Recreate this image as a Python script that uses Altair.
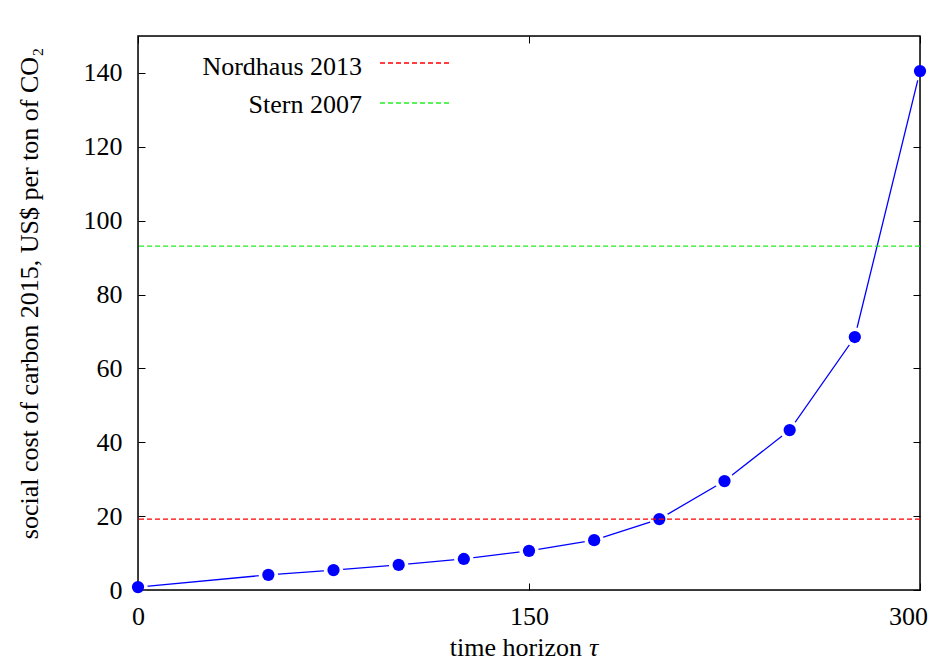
import altair as alt
import pandas as pd

# ---- data ----
tau = [0, 50, 75, 100, 125, 150, 175, 200, 225, 250, 275, 300]
scc = [0.8, 4.1, 5.4, 6.8, 8.4, 10.6, 13.5, 19.2, 29.5, 43.3, 68.5, 140.5]
ref_labels = ["Nordhaus 2013", "Stern 2007"]
ref_values = [19.2, 93.1]
ref_colors = ["#ff0000", "#22ee22"]
x_ticks = [0, 150, 300]
y_ticks = [0, 20, 40, 60, 80, 100, 120, 140]

FONT = "Liberation Serif"
FS = 26
W, H = 782, 554

df = pd.DataFrame({"tau": tau, "scc": scc})
xs = alt.Scale(domain=[0, 300], nice=False, zero=False)
ys = alt.Scale(domain=[0, 150], nice=False, zero=False)

tick_axis = dict(labels=False, domain=False, tickSize=7, tickColor="black",
                 tickWidth=1, title=None, grid=False)
xlab_axis = dict(orient="bottom", ticks=False, domain=False, grid=False,
                 labelFlush=False, labelOverlap=False, labelPadding=13,
                 labelFont=FONT, labelFontSize=FS, labelColor="black", title=None)

# line with labelled axes (no ticks)
line = alt.Chart(df).mark_line(color="#0000ff", strokeWidth=1.3).encode(
    x=alt.X("tau:Q", scale=xs, axis=alt.Axis(values=x_ticks[:-1], **xlab_axis)),
    y=alt.Y("scc:Q", scale=ys, axis=alt.Axis(
        orient="left", values=y_ticks, ticks=False, domain=False, grid=False,
        labelFlush=False, labelOverlap=False,
        labelPadding=16, labelFont=FONT, labelFontSize=FS, labelColor="black",
        title="social cost of carbon 2015, US$ per ton of CO₂",
        titleFont=FONT, titleFontSize=FS, titleFontWeight="normal", titleColor="black",
        titleX=-109, titleY=257, titleAngle=270, titleAlign="center",
        titleBaseline="middle")),
)

# white halos give the gaps of the line around each point; also carries inward ticks
halo = alt.Chart(df).mark_point(filled=True, shape="circle", size=380,
                                color="white", opacity=1).encode(
    x=alt.X("tau:Q", scale=xs, axis=alt.Axis(orient="top", offset=-H,
                                              values=x_ticks, **tick_axis)),
    y=alt.Y("scc:Q", scale=ys, axis=alt.Axis(orient="right", offset=-W,
                                              values=y_ticks, **tick_axis)),
)

# frame with the mirrored inward ticks
frame = alt.Chart(pd.DataFrame({"a": [0]})).mark_rect(
    fillOpacity=0, stroke="black", strokeWidth=1.5).encode(
    x=alt.XDatum(0, type="quantitative", scale=xs,
                 axis=alt.Axis(orient="bottom", offset=-H, values=x_ticks, **tick_axis)),
    x2=alt.X2Datum(300),
    y=alt.YDatum(0, type="quantitative", scale=ys,
                 axis=alt.Axis(orient="left", offset=-W, values=y_ticks, **tick_axis)),
    y2=alt.Y2Datum(150),
)

# points; their x axis carries the last tick label, nudged to stay inside the page
points = alt.Chart(df).mark_point(filled=True, shape="circle", size=150,
                                  color="#0000ff", opacity=1).encode(
    x=alt.X("tau:Q", scale=xs, axis=alt.Axis(values=x_ticks[-1:], labelOffset=-12,
                                              **xlab_axis)),
    y=alt.Y("scc:Q", scale=ys, axis=None),
)

layers = [line, halo, frame, points]

# reference lines (drawn over the points, as in the reference)
for lab, val, col in zip(ref_labels, ref_values, ref_colors):
    rdf = pd.DataFrame({"label": [lab], "value": [val]})
    layers.append(
        alt.Chart(rdf).mark_rule(color=col, strokeDash=[5, 3], strokeWidth=1.2).encode(
            y=alt.Y("value:Q", scale=ys, axis=None))
    )

# legend (top-left, text right-aligned with line sample at right)
for i, (lab, col) in enumerate(zip(ref_labels, ref_colors)):
    ldf = pd.DataFrame({"label": [lab]})
    layers.append(
        alt.Chart(ldf).mark_text(align="right", baseline="alphabetic", font=FONT,
                                 fontSize=FS, color="black").encode(
            x=alt.value(224), y=alt.value(39 + 37.5 * i), text="label:N")
    )
    layers.append(
        alt.Chart(ldf).mark_rule(color=col, strokeDash=[5, 3], strokeWidth=1.5).encode(
            x=alt.value(242), x2=alt.value(314), y=alt.value(27 + 40 * i))
    )

# x-axis title with italic tau
tdf = pd.DataFrame({"t": ["time horizon"], "g": ["τ"]})
layers.append(
    alt.Chart(tdf).mark_text(align="right", baseline="alphabetic", font=FONT,
                             fontSize=FS, color="black").encode(
        x=alt.value(444), y=alt.value(620), text="t:N")
)
layers.append(
    alt.Chart(tdf).mark_text(align="left", baseline="alphabetic", font=FONT,
                             fontSize=FS, fontStyle="italic", color="black").encode(
        x=alt.value(451), y=alt.value(620), text="g:N")
)

chart = alt.layer(*layers).properties(
    width=W, height=H,
    padding={"left": 130, "top": 28, "right": 11, "bottom": 72},
    autosize=alt.AutoSizeParams(type="none"),
).configure_view(stroke=None).configure(background="white")

chart.save("out.html", embed_options={"renderer": "svg", "actions": False})
